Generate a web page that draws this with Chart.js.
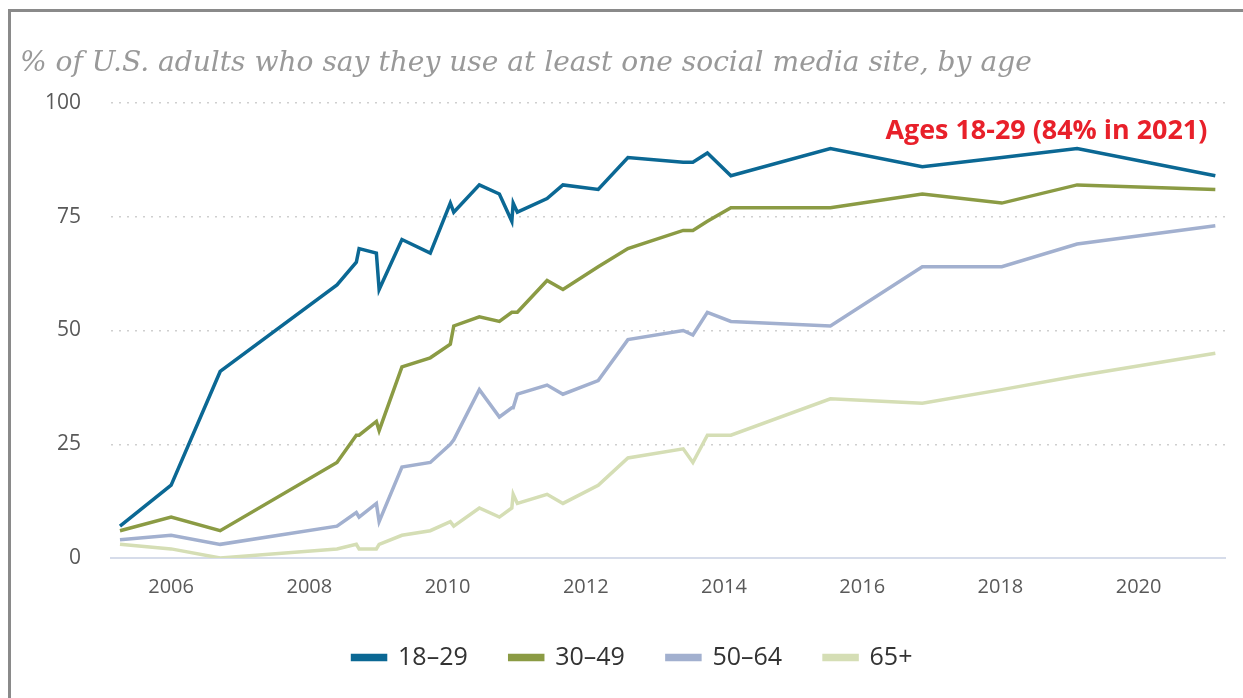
<!DOCTYPE html>
<html>
<head>
<meta charset="utf-8">
<script src="https://cdn.jsdelivr.net/npm/chart.js@4.4.1/dist/chart.umd.min.js"></script>
<style>
  html, body { margin: 0; padding: 0; background: #fff; }
  #wrap { position: relative; width: 1243px; height: 698px; overflow: hidden; }
  #frame { position: absolute; left: 8px; top: 9px; width: 1300px; height: 800px;
           border-left: 3px solid #8a8a8a; border-top: 3px solid #8a8a8a; }
  canvas { position: absolute; left: 0; top: 0; }
</style>
</head>
<body>
<div id="wrap">
  <div id="frame"></div>
  <canvas id="chart" width="1243" height="698"></canvas>
</div>
<script>
// survey dates (decimal years)
const surveyDates = [2005.26, 2006.0, 2006.71, 2008.4, 2008.68, 2008.72, 2008.97, 2009.01, 2009.34, 2009.75,
  2010.04, 2010.09, 2010.46, 2010.75, 2010.93, 2010.95, 2011.01, 2011.44, 2011.67, 2012.18,
  2012.61, 2013.41, 2013.55, 2013.76, 2014.1, 2015.54, 2016.87, 2018.02, 2019.11, 2021.11];

const ages18to29 = [7, 16, 41, 60, 65, 68, 67, 59, 70, 67, 78, 76, 82, 80, 74, 78, 76, 79, 82, 81, 88, 87, 87, 89, 84, 90, 86, 88, 90, 84];
const ages30to49 = [6, 9, 6, 21, 27, 27, 30, 28, 42, 44, 47, 51, 53, 52, 54, 54, 54, 61, 59, 64, 68, 72, 72, 74, 77, 77, 80, 78, 82, 81];
const ages50to64 = [4, 5, 3, 7, 10, 9, 12, 8, 20, 21, 25, 26, 37, 31, 33, 33, 36, 38, 36, 39, 48, 50, 49, 54, 52, 51, 64, 64, 69, 73];
const ages65plus = [3, 2, 0, 2, 3, 2, 2, 3, 5, 6, 8, 7, 11, 9, 11, 14, 12, 14, 12, 16, 22, 24, 21, 27, 27, 35, 34, 37, 40, 45];

const seriesLabels = ['18\u201329', '30\u201349', '50\u201364', '65+'];
const seriesColors = ['#0b6894', '#8b9b44', '#a2b0cf', '#d5deb5'];
const xTickYears = [2006, 2008, 2010, 2012, 2014, 2016, 2018, 2020];
const yTicks = [0, 25, 50, 75, 100];

const titleText = '% of U.S. adults who say they use at least one social media site, by age';
const noteText = 'Ages 18-29 (84% in 2021)';

const toPoints = vals => vals.map((v, i) => ({ x: surveyDates[i], y: v }));
const allSeries = [ages18to29, ages30to49, ages50to64, ages65plus];

const datasets = allSeries.map((vals, i) => ({
  label: seriesLabels[i],
  data: toPoints(vals),
  borderColor: seriesColors[i],
  backgroundColor: seriesColors[i],
  borderWidth: 3.5,
  pointRadius: 0,
  tension: 0
}));

// fits a text into a given width by scaling the font size
function fitFont(ctx, text, fontFn, width) {
  ctx.font = fontFn(30);
  const w = ctx.measureText(text).width;
  return fontFn(30 * width / w);
}

const textPlugin = {
  id: 'texts',
  beforeInit(chart) {
    const lg = chart.legend;
    if (lg) {
      const fit = lg.fit.bind(lg);
      lg.fit = function () { fit(); this.height = 95; };
    }
  },
  afterDraw(chart) {
    const ctx = chart.ctx;
    const xs = chart.scales.x, ys = chart.scales.y;
    ctx.save();
    ctx.font = fitFont(ctx, titleText, s => 'italic ' + s + 'px "DejaVu Serif"', 1012);
    ctx.fillStyle = '#999999';
    ctx.textBaseline = 'alphabetic';
    ctx.textAlign = 'left';
    ctx.fillText(titleText, 20, 71);

    ctx.font = fitFont(ctx, noteText, s => 'bold ' + s + 'px "Open Sans"', 322);
    ctx.fillStyle = '#e8202a';
    ctx.textAlign = 'right';
    ctx.textBaseline = 'middle';
    ctx.fillText(noteText, xs.getPixelForValue(2021.11) - 8, ys.getPixelForValue(93.8));
    ctx.restore();
  }
};

new Chart(document.getElementById('chart'), {
  type: 'line',
  data: { datasets },
  options: {
    responsive: false,
    animation: false,
    layout: { padding: { left: 40, right: 18, top: 103, bottom: 0 } },
    plugins: {
      title: { display: false },
      tooltip: { enabled: false },
      legend: {
        position: 'bottom',
        labels: {
          boxWidth: 33,
          boxHeight: 4,
          padding: 42,
          color: '#333',
          font: { family: 'Open Sans', size: 25 }
        }
      }
    },
    scales: {
      x: {
        type: 'linear',
        min: 2005.13,
        max: 2021.25,
        afterBuildTicks: axis => { axis.ticks = xTickYears.map(v => ({ value: v })); },
        afterFit: s => { s.height = 45; },
        grid: { display: false, drawTicks: false },
        border: { display: true, color: '#d6dcea', width: 2 },
        ticks: {
          padding: 17,
          color: '#595959',
          font: { family: 'Open Sans', size: 20 },
          callback: v => String(v),
          maxRotation: 0
        }
      },
      y: {
        min: 0,
        max: 100,
        afterBuildTicks: axis => { axis.ticks = yTicks.map(v => ({ value: v })); },
        afterFit: s => { s.width = 71; },
        grid: {
          drawTicks: false,
          color: ctx => ctx.tick && ctx.tick.value === 0 ? 'rgba(0,0,0,0)' : '#cfcfcf',
          lineWidth: 1.5
        },
        border: { display: false, dash: [2, 6] },
        ticks: {
          padding: 30,
          color: '#595959',
          font: { family: 'Open Sans', size: 21 }
        }
      }
    }
  },
  plugins: [textPlugin]
});
</script>
</body>
</html>
